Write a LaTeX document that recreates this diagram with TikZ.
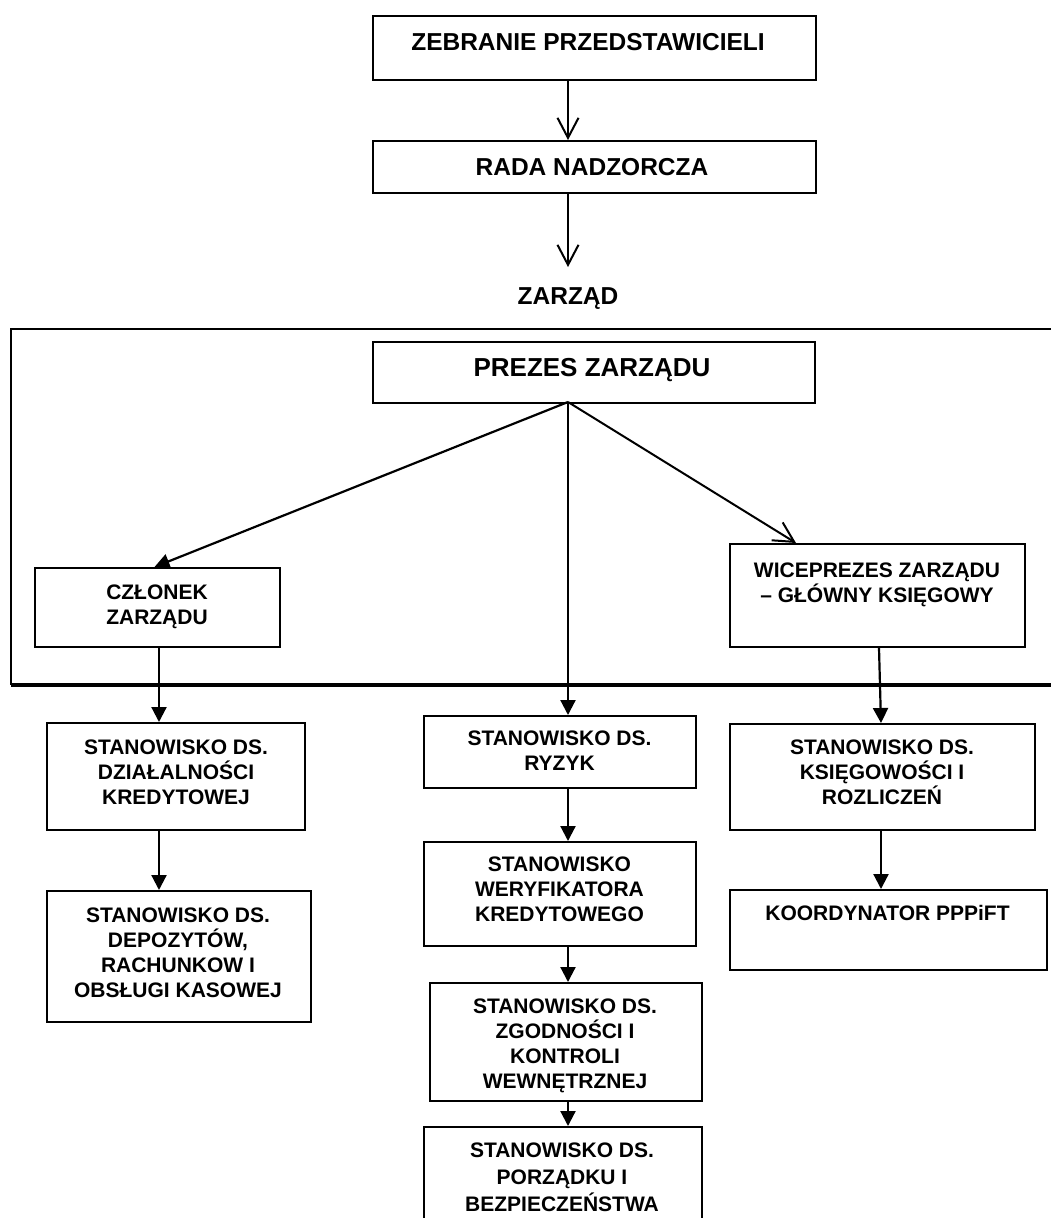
\documentclass[tikz,border=0pt]{standalone}
\usepackage{fontspec}
\setmainfont{Liberation Sans}
\usetikzlibrary{arrows.meta,calc}
\begin{document}
\begin{tikzpicture}[x=1pt,y=-1pt,
  box/.style={draw,line width=2pt,inner sep=0pt,anchor=north west},
  txt/.style={anchor=north,inner sep=0pt,align=center,font=\bfseries\fontsize{21pt}{25pt}\selectfont},
  big/.style={anchor=north,inner sep=0pt,align=center,font=\bfseries\fontsize{24.5pt}{28pt}\selectfont},
  huge/.style={anchor=north,inner sep=0pt,align=center,font=\bfseries\fontsize{26pt}{30pt}\selectfont},
  filled/.style={line width=2.2pt,-{Triangle[length=15pt,width=15pt]}},
  openv/.style={line width=2pt,-{Straight Barb[length=20pt,width=21pt,line width=2pt]}}]
\useasboundingbox (0,0) rectangle (1051,1218);
\clip (0,0) rectangle (1051,1218);
\fill[white] (0,0) rectangle (1051,1218);

% frame around the board
\draw[line width=2.6pt] (1070,329) -- (11,329) -- (11,685);
\draw[line width=3.6pt] (11,685) -- (1070,685);

% boxes
\node[box,minimum width=443pt,minimum height=64pt] (zeb) at (372,15) {};
\node[box,minimum width=443pt,minimum height=52pt] (rada) at (372,140) {};
\node[box,minimum width=442pt,minimum height=61pt] (prezes) at (372,341) {};
\node[box,minimum width=245pt,minimum height=79pt] (czl) at (34,567) {};
\node[box,minimum width=295pt,minimum height=103pt] (wice) at (729,543) {};
\node[box,minimum width=258pt,minimum height=107pt] (dzial) at (46,722) {};
\node[box,minimum width=264pt,minimum height=131pt] (depoz) at (46,890) {};
\node[box,minimum width=272pt,minimum height=72pt] (ryzyk) at (423,715) {};
\node[box,minimum width=272pt,minimum height=104pt] (weryf) at (423,841) {};
\node[box,minimum width=272pt,minimum height=118pt] (zgod) at (429,982) {};
\node[box,minimum width=278pt,minimum height=120pt] (porz) at (423,1126) {};
\node[box,minimum width=305pt,minimum height=106pt] (ksieg) at (729,723) {};
\node[box,minimum width=317pt,minimum height=80pt] (koord) at (729,889) {};

% texts
\node[big] (zebt) at (588,33) {ZEBRANIE PRZEDSTAWICIELI};
\node[big] (radat) at (592,158) {RADA NADZORCZA};
\node[big] (zarzadt) at (568,287) {ZARZĄD};
\node[huge] (prezest) at (592,358) {PREZES ZARZĄDU};
\node[txt] (czlt) at (157,585) {CZŁONEK\\ZARZĄDU};
\node[txt] (wicet) at (877,563) {WICEPREZES ZARZĄDU\\– GŁÓWNY KSIĘGOWY};
\node[txt] (dzialt) at (176,740) {STANOWISKO DS.\\DZIAŁALNOŚCI\\KREDYTOWEJ};
\node[txt] (depozt) at (178,908) {STANOWISKO DS.\\DEPOZYTÓW,\\RACHUNKOW I\\OBSŁUGI KASOWEJ};
\node[txt] (ryzykt) at (559.5,731) {STANOWISKO DS.\\RYZYK};
\node[txt] (weryft) at (559.5,857) {STANOWISKO\\WERYFIKATORA\\KREDYTOWEGO};
\node[txt] (zgodt) at (565,999) {STANOWISKO DS.\\ZGODNOŚCI I\\KONTROLI\\WEWNĘTRZNEJ};
\node[txt,font=\bfseries\fontsize{21pt}{27pt}\selectfont] (porzt) at (562,1143) {STANOWISKO DS.\\PORZĄDKU I\\BEZPIECZEŃSTWA};
\node[txt] (ksiegt) at (882,740) {STANOWISKO DS.\\KSIĘGOWOŚCI I\\ROZLICZEŃ};
\node[txt] (koordt) at (887.5,905) {KOORDYNATOR PPPiFT};

% connectors
\coordinate (hub) at (568,402);
\draw[openv] (zeb.south -| hub) -- (rada.north -| hub);
\draw[openv] (rada.south -| hub) -- ($(zarzadt.north -| hub)+(0,-20)$);
\draw[filled] (hub) -- ($(czl.north)+(-3,0)$);
\draw[openv] (hub) -- ($(wice.north west)+(67,0)$);
\draw[filled] (hub) -- (hub |- ryzyk.north);
\draw[filled] ($(czl.south)+(1.5,0)$) -- ($(czl.south |- dzial.north)+(1.5,0)$);
\draw[filled] ($(czl.south |- dzial.south)+(1.5,0)$) -- ($(czl.south |- depoz.north)+(1.5,0)$);
\draw[filled] ($(wice.south)+(1.5,0)$) -- ($(ksieg.north)+(-1.5,0)$);
\draw[filled] ($(ksieg.south)+(-1.5,0)$) -- ($(ksieg.south |- koord.north)+(-1.5,0)$);
\draw[filled] (hub |- ryzyk.south) -- (hub |- weryf.north);
\draw[filled] (hub |- weryf.south) -- (hub |- zgod.north);
\draw[filled] (hub |- zgod.south) -- (hub |- porz.north);
\end{tikzpicture}
\end{document}
